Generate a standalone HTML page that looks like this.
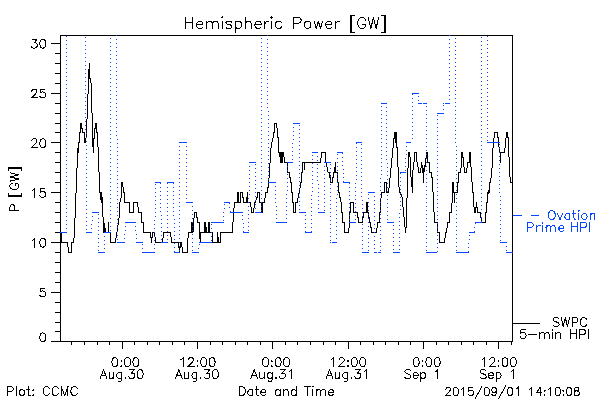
<!DOCTYPE html>
<html><head><meta charset="utf-8"><title>Hemispheric Power</title>
<style>html,body{margin:0;padding:0;background:#fff;font-family:"Liberation Sans",sans-serif}svg{display:block}</style></head>
<body>
<svg width="600" height="400" viewBox="0 0 600 400" shape-rendering="crispEdges">
<rect width="600" height="400" fill="#fff"/>
<path d="M60 35.5H513M60 341.5H513M60.5 35V342M512.5 35V342M51 341.5H61M55 331.5H61M55 322.5H61M55 312.5H61M55 302.5H61M51 292.5H61M55 282.5H61M55 272.5H61M55 262.5H61M55 252.5H61M51 242.5H61M55 232.5H61M55 222.5H61M55 212.5H61M55 202.5H61M51 192.5H61M55 182.5H61M55 172.5H61M55 162.5H61M55 152.5H61M51 142.5H61M55 132.5H61M55 123.5H61M55 113.5H61M55 103.5H61M51 93.5H61M55 83.5H61M55 73.5H61M55 63.5H61M55 53.5H61M51 43.5H61M71.5 341V345M84.5 341V345M97.5 341V345M109.5 341V345M122.5 341V349M134.5 341V345M147.5 341V345M159.5 341V345M172.5 341V345M184.5 341V345M197.5 341V349M210.5 341V345M222.5 341V345M235.5 341V345M247.5 341V345M260.5 341V345M272.5 341V349M285.5 341V345M297.5 341V345M310.5 341V345M323.5 341V345M335.5 341V345M348.5 341V349M360.5 341V345M373.5 341V345M385.5 341V345M398.5 341V345M410.5 341V345M423.5 341V349M436.5 341V345M448.5 341V345M461.5 341V345M473.5 341V345M486.5 341V345M498.5 341V349M511.5 341V345" stroke="#000" stroke-width="1" fill="none"/>
<path d="M61.5 232V243M61 242.5H68M67.5 242V247M68.5 247V253M68 252.5H72M71.5 242V253M71 242.5H74M73.5 238V243M74.5 218V238M75.5 193V218M76.5 168V193M77.5 148V168M78.5 142V153M79.5 132V143M80.5 123V133M81.5 123V129M82.5 128V133M82 132.5H85M84.5 132V143M85.5 138V143M86.5 119V138M87.5 94V119M88.5 69V94M89.5 63V79M90.5 78V83M91.5 83V113M92.5 113V147M93.5 138V153M94.5 128V139M95.5 123V129M96.5 123V133M97.5 132V147M98.5 147V172M99.5 172V193M100.5 192V200M101.5 192V203M102.5 197V217M103.5 217V232M104.5 223V232M105.5 228V232M108.5 222V233M103 232.5H111M110.5 232V243M110 242.5H116M115.5 238V243M116.5 232V238M117.5 225V232M118.5 218V225M119.5 202V218M120.5 198V202M121.5 182V198M122.5 182V187M123.5 187V193M124.5 192V203M124 202.5H130M129.5 202V213M129 212.5H134M133.5 202V213M133 202.5H138M137.5 202V207M138.5 207V213M138 212.5H142M141.5 212V223M141 222.5H144M143.5 222V233M143 232.5H151M150.5 232V238M151.5 237V243M152.5 232V238M152 232.5H155M154.5 232V237M155.5 237V243M155 242.5H163M162.5 238V243M163.5 232V238M163 232.5H171M170.5 232V237M171.5 237V243M171 242.5H179M178.5 242V248M179.5 247V253M180.5 242V248M181.5 242V247M182.5 247V253M182 252.5H188M187.5 238V253M188.5 232V238M188 232.5H192M191.5 222V233M192.5 222V233M193.5 218V232M194.5 212V218M194 212.5H197M196.5 212V218M197.5 217V223M197 222.5H200M199.5 222V239M200.5 232V243M200 232.5H205M204.5 222V233M205.5 222V233M206.5 227V233M205 232.5H209M208.5 222V233M209.5 222V233M209 232.5H213M212.5 232V243M212 242.5H221M217.5 232V243M218.5 237V243M220.5 232V243M220 232.5H233M232.5 222V233M233.5 208V222M234.5 202V208M234 202.5H237M237.5 192V203M238.5 192V203M238 202.5H241M240.5 192V203M240 192.5H243M242.5 192V198M243.5 197V203M243 202.5H247M246.5 197V203M247.5 192V203M247 202.5H251M250.5 202V207M251.5 207V213M251 212.5H254M253.5 208V213M254.5 202V208M255.5 200V203M256.5 197V200M257.5 192V198M257 192.5H260M259.5 192V203M259 202.5H265M261.5 202V213M262.5 202V213M264.5 198V203M265.5 192V198M265 192.5H268M267.5 187V193M268.5 178V188M269.5 163V178M270.5 148V163M271.5 142V148M272.5 138V142M273.5 132V138M274.5 123V133M274 123.5H277M276.5 123V128M277.5 128V138M278.5 137V153M279.5 152V157M280.5 152V163M281.5 152V163M282.5 152V163M283.5 152V157M284.5 157V163M284 162.5H288M287.5 162V173M287 172.5H290M289.5 172V178M290.5 177V183M291.5 182V193M292.5 192V203M293.5 202V213M293 212.5H296M295.5 202V213M295 202.5H298M297.5 198V203M298.5 193V198M299.5 188V193M300.5 182V188M301.5 172V183M302.5 162V173M304.5 162V170M302 162.5H321M320.5 158V163M321.5 152V158M321 152.5H326M325.5 152V163M326.5 162V167M327.5 167V172M328.5 172V173M329.5 172V178M330.5 175V183M330 182.5H333M332.5 177V183M333.5 172V178M333 172.5H338M334.5 167V173M335.5 162V173M337.5 172V183M338.5 182V193M339.5 192V198M340.5 197V202M341.5 202V213M342.5 212V223M342 222.5H345M344.5 222V233M344 232.5H349M348.5 228V233M349.5 212V228M350.5 202V213M350 202.5H354M353.5 202V212M353 212.5H358M357.5 212V218M358.5 217V223M358 222.5H363M362.5 217V223M363.5 212V218M363 212.5H368M366.5 202V213M367.5 202V213M368.5 212V218M369.5 217V223M370.5 222V228M371.5 227V233M371 232.5H377M376.5 228V233M377.5 222V228M377 222.5H380M379.5 212V223M380.5 198V213M381.5 192V198M381 192.5H385M384.5 182V193M384 182.5H387M386.5 182V193M386 192.5H389M388.5 188V193M389.5 178V188M390.5 168V178M391.5 158V168M392.5 148V158M393.5 138V148M394.5 132V139M395.5 132V143M394 132.5H397M396.5 132V148M397.5 147V167M398.5 167V187M399.5 187V193M400.5 192V195M401.5 194V197M402.5 197V207M403.5 207V217M404.5 217V227M405.5 227V233M406.5 198V228M407.5 168V198M408.5 152V168M409.5 152V157M410.5 157V177M411.5 177V187M412.5 170V193M413.5 162V170M414.5 152V162M414 152.5H417M416.5 152V162M417.5 162V167M418.5 167V173M418 172.5H421M420.5 168V173M421.5 162V168M422.5 165V173M423.5 168V183M424.5 165V172M425.5 158V167M426.5 152V158M427.5 152V163M427 162.5H430M429.5 162V173M429 172.5H432M431.5 172V178M432.5 177V192M433.5 192V212M434.5 212V223M434 222.5H438M437.5 222V233M437 232.5H440M439.5 232V243M439 242.5H445M444.5 238V243M445.5 232V238M446.5 228V233M447.5 222V228M447 222.5H450M449.5 212V223M449 212.5H452M451.5 203V213M452.5 182V203M453.5 182V193M453 192.5H458M454.5 192V203M457.5 182V193M458.5 172V183M458 172.5H461M460.5 168V173M461.5 152V168M462.5 152V158M463.5 157V167M464.5 167V173M464 172.5H467M466.5 168V173M467.5 162V168M467 162.5H470M469.5 152V163M470.5 152V167M471.5 167V182M472.5 182V193M473.5 192V207M474.5 207V213M475.5 207V213M476.5 202V208M477.5 207V213M477 212.5H481M480.5 212V218M481.5 217V223M481 222.5H486M485.5 212V223M486.5 202V213M487.5 192V203M488.5 190V194M489.5 182V193M490.5 178V183M491.5 168V178M492.5 148V168M493.5 138V148M494.5 132V138M494 132.5H498M497.5 132V138M498.5 137V147M499.5 147V153M500.5 152V163M500 152.5H505M504.5 148V153M505.5 138V148M506.5 132V138M507.5 132V138M508.5 137V157M509.5 157V177M510.5 177V183M511.5 182V183M512 323.5H540" stroke="#000" stroke-width="1" fill="none"/>
<path d="M60 232.5H67M86 232.5H92M92 212.5H99M98 252.5H105M104 232.5H111M117 242.5H125M125 222.5H136M136 242.5H143M142 252.5H155M155 182.5H161M161 242.5H168M167 182.5H174M174 252.5H180M179 142.5H187M186 202.5H193M192 252.5H199M199 242.5H212M211 222.5H224M224 202.5H230M230 212.5H243M243 232.5H249M249 162.5H256M255 212.5H262M268 182.5H276M276 222.5H287M287 162.5H293M293 123.5H300M299 212.5H306M305 232.5H312M312 152.5H318M318 212.5H325M324 162.5H331M330 242.5H331M332 242.5H337M337 152.5H343M343 182.5H350M349 222.5H356M356 142.5H362M362 252.5H369M368 192.5H375M374 252.5H377M378 252.5H381M381 103.5H387M387 222.5H394M393 252.5H400M400 172.5H406M406 142.5H411M412 93.5H419M418 103.5H422M423 103.5H427M426 252.5H437M437 113.5H444M443 103.5H444M445 103.5H450M456 252.5H469M469 232.5H475M475 222.5H482M487 142.5H500M500 242.5H507M506 252.5H513M66 36.5h1M66 40.5h1M66 44.5h1M66 48.5h1M66 52.5h1M66 56.5h1M66 60.5h1M66 64.5h1M66 68.5h1M66 72.5h1M66 76.5h1M66 80.5h1M66 84.5h1M66 88.5h1M66 92.5h1M66 96.5h1M66 100.5h1M66 104.5h1M66 108.5h1M66 112.5h1M66 116.5h1M66 120.5h1M66 124.5h1M66 128.5h1M66 132.5h1M66 136.5h1M66 140.5h1M66 144.5h1M66 148.5h1M66 152.5h1M66 156.5h1M66 160.5h1M66 164.5h1M66 168.5h1M66 172.5h1M66 176.5h1M66 180.5h1M66 184.5h1M66 188.5h1M66 192.5h1M66 196.5h1M66 200.5h1M66 204.5h1M66 208.5h1M66 212.5h1M66 216.5h1M66 220.5h1M66 224.5h1M66 228.5h1M85 37.5h1M85 41.5h1M85 45.5h1M85 49.5h1M85 53.5h1M85 57.5h1M85 61.5h1M85 65.5h1M85 69.5h1M85 73.5h1M85 77.5h1M85 81.5h1M85 85.5h1M85 89.5h1M85 93.5h1M85 97.5h1M85 101.5h1M85 105.5h1M85 109.5h1M85 113.5h1M85 117.5h1M85 121.5h1M85 125.5h1M85 129.5h1M86 133.5h1M86 137.5h1M86 141.5h1M86 145.5h1M86 149.5h1M86 153.5h1M86 157.5h1M86 161.5h1M86 165.5h1M86 169.5h1M86 173.5h1M86 177.5h1M86 181.5h1M86 185.5h1M86 189.5h1M86 193.5h1M86 197.5h1M86 201.5h1M86 205.5h1M86 209.5h1M86 213.5h1M86 217.5h1M86 221.5h1M86 225.5h1M86 229.5h1M92 216.5h1M92 220.5h1M91 224.5h1M91 228.5h1M98 214.5h1M98 218.5h1M98 222.5h1M98 226.5h1M98 230.5h1M98 234.5h1M98 238.5h1M98 242.5h1M98 246.5h1M98 250.5h1M104 236.5h1M104 240.5h1M104 244.5h1M104 248.5h1M110 38.5h1M110 42.5h1M110 46.5h1M110 50.5h1M110 54.5h1M110 58.5h1M110 62.5h1M110 66.5h1M110 70.5h1M110 74.5h1M110 78.5h1M110 82.5h1M110 86.5h1M110 90.5h1M110 94.5h1M110 98.5h1M110 102.5h1M110 106.5h1M110 110.5h1M110 114.5h1M110 118.5h1M110 122.5h1M110 126.5h1M110 130.5h1M110 134.5h1M110 138.5h1M110 142.5h1M110 146.5h1M110 150.5h1M110 154.5h1M110 158.5h1M110 162.5h1M110 166.5h1M110 170.5h1M110 174.5h1M110 178.5h1M110 182.5h1M110 186.5h1M110 190.5h1M110 194.5h1M110 198.5h1M110 202.5h1M110 206.5h1M110 210.5h1M110 214.5h1M110 218.5h1M110 222.5h1M110 226.5h1M110 230.5h1M116 35.5h1M116 39.5h1M116 43.5h1M116 47.5h1M116 51.5h1M116 55.5h1M116 59.5h1M116 63.5h1M116 67.5h1M116 71.5h1M116 75.5h1M116 79.5h1M116 83.5h1M116 87.5h1M116 91.5h1M116 95.5h1M116 99.5h1M116 103.5h1M116 107.5h1M116 111.5h1M116 115.5h1M116 119.5h1M116 123.5h1M116 127.5h1M116 131.5h1M116 135.5h1M117 139.5h1M117 143.5h1M117 147.5h1M117 151.5h1M117 155.5h1M117 159.5h1M117 163.5h1M117 167.5h1M117 171.5h1M117 175.5h1M117 179.5h1M117 183.5h1M117 187.5h1M117 191.5h1M117 195.5h1M117 199.5h1M117 203.5h1M117 207.5h1M117 211.5h1M117 215.5h1M117 219.5h1M117 223.5h1M117 227.5h1M117 231.5h1M117 235.5h1M117 239.5h1M125 226.5h1M125 230.5h1M124 234.5h1M124 238.5h1M135 226.5h1M135 230.5h1M136 234.5h1M136 238.5h1M142 244.5h1M142 248.5h1M155 184.5h1M155 188.5h1M155 192.5h1M155 196.5h1M155 200.5h1M155 204.5h1M155 208.5h1M155 212.5h1M155 216.5h1M154 220.5h1M154 224.5h1M154 228.5h1M154 232.5h1M154 236.5h1M154 240.5h1M154 244.5h1M154 248.5h1M160 183.5h1M160 187.5h1M160 191.5h1M160 195.5h1M160 199.5h1M160 203.5h1M160 207.5h1M160 211.5h1M161 215.5h1M161 219.5h1M161 223.5h1M161 227.5h1M161 231.5h1M161 235.5h1M161 239.5h1M167 183.5h1M167 187.5h1M167 191.5h1M167 195.5h1M167 199.5h1M167 203.5h1M167 207.5h1M167 211.5h1M167 215.5h1M167 219.5h1M167 223.5h1M167 227.5h1M167 231.5h1M167 235.5h1M167 239.5h1M173 183.5h1M173 187.5h1M173 191.5h1M173 195.5h1M173 199.5h1M173 203.5h1M173 207.5h1M173 211.5h1M173 215.5h1M174 219.5h1M174 223.5h1M174 227.5h1M174 231.5h1M174 235.5h1M174 239.5h1M174 243.5h1M174 247.5h1M174 251.5h1M179 146.5h1M179 150.5h1M179 154.5h1M179 158.5h1M179 162.5h1M179 166.5h1M179 170.5h1M179 174.5h1M179 178.5h1M179 182.5h1M179 186.5h1M179 190.5h1M179 194.5h1M179 198.5h1M179 202.5h1M179 206.5h1M179 210.5h1M179 214.5h1M179 218.5h1M179 222.5h1M179 226.5h1M179 230.5h1M179 234.5h1M179 238.5h1M179 242.5h1M179 246.5h1M179 250.5h1M186 146.5h1M186 150.5h1M186 154.5h1M186 158.5h1M186 162.5h1M186 166.5h1M186 170.5h1M186 174.5h1M186 178.5h1M186 182.5h1M186 186.5h1M186 190.5h1M186 194.5h1M186 198.5h1M192 206.5h1M192 210.5h1M192 214.5h1M192 218.5h1M192 222.5h1M192 226.5h1M192 230.5h1M192 234.5h1M192 238.5h1M192 242.5h1M192 246.5h1M192 250.5h1M199 244.5h1M198 248.5h1M211 224.5h1M211 228.5h1M211 232.5h1M211 236.5h1M211 240.5h1M224 204.5h1M224 208.5h1M223 212.5h1M223 216.5h1M223 220.5h1M229 203.5h1M229 207.5h1M230 211.5h1M242 215.5h1M242 219.5h1M243 223.5h1M243 227.5h1M243 231.5h1M249 166.5h1M249 170.5h1M249 174.5h1M249 178.5h1M249 182.5h1M249 186.5h1M249 190.5h1M249 194.5h1M248 198.5h1M248 202.5h1M248 206.5h1M248 210.5h1M248 214.5h1M248 218.5h1M248 222.5h1M248 226.5h1M248 230.5h1M255 164.5h1M255 168.5h1M255 172.5h1M255 176.5h1M255 180.5h1M255 184.5h1M255 188.5h1M255 192.5h1M255 196.5h1M255 200.5h1M255 204.5h1M255 208.5h1M261 38.5h1M261 42.5h1M261 46.5h1M261 50.5h1M261 54.5h1M261 58.5h1M261 62.5h1M261 66.5h1M261 70.5h1M261 74.5h1M261 78.5h1M261 82.5h1M261 86.5h1M261 90.5h1M261 94.5h1M261 98.5h1M261 102.5h1M261 106.5h1M261 110.5h1M261 114.5h1M261 118.5h1M261 122.5h1M261 126.5h1M261 130.5h1M261 134.5h1M261 138.5h1M261 142.5h1M261 146.5h1M261 150.5h1M261 154.5h1M261 158.5h1M261 162.5h1M261 166.5h1M261 170.5h1M261 174.5h1M261 178.5h1M261 182.5h1M261 186.5h1M261 190.5h1M261 194.5h1M261 198.5h1M261 202.5h1M261 206.5h1M261 210.5h1M267 35.5h1M267 39.5h1M267 43.5h1M267 47.5h1M267 51.5h1M267 55.5h1M267 59.5h1M267 63.5h1M267 67.5h1M267 71.5h1M267 75.5h1M267 79.5h1M267 83.5h1M267 87.5h1M267 91.5h1M267 95.5h1M267 99.5h1M267 103.5h1M267 107.5h1M268 111.5h1M268 115.5h1M268 119.5h1M268 123.5h1M268 127.5h1M268 131.5h1M268 135.5h1M268 139.5h1M268 143.5h1M268 147.5h1M268 151.5h1M268 155.5h1M268 159.5h1M268 163.5h1M268 167.5h1M268 171.5h1M268 175.5h1M268 179.5h1M275 186.5h1M275 190.5h1M275 194.5h1M275 198.5h1M275 202.5h1M276 206.5h1M276 210.5h1M276 214.5h1M276 218.5h1M287 166.5h1M287 170.5h1M287 174.5h1M287 178.5h1M287 182.5h1M287 186.5h1M287 190.5h1M286 194.5h1M286 198.5h1M286 202.5h1M286 206.5h1M286 210.5h1M286 214.5h1M286 218.5h1M293 127.5h1M293 131.5h1M293 135.5h1M293 139.5h1M292 143.5h1M292 147.5h1M292 151.5h1M292 155.5h1M292 159.5h1M299 125.5h1M299 129.5h1M299 133.5h1M299 137.5h1M299 141.5h1M299 145.5h1M299 149.5h1M299 153.5h1M299 157.5h1M299 161.5h1M299 165.5h1M299 169.5h1M299 173.5h1M299 177.5h1M299 181.5h1M299 185.5h1M299 189.5h1M299 193.5h1M299 197.5h1M299 201.5h1M299 205.5h1M299 209.5h1M305 215.5h1M305 219.5h1M305 223.5h1M305 227.5h1M305 231.5h1M312 155.5h1M312 159.5h1M312 163.5h1M312 167.5h1M312 171.5h1M312 175.5h1M312 179.5h1M312 183.5h1M312 187.5h1M312 191.5h1M311 195.5h1M311 199.5h1M311 203.5h1M311 207.5h1M311 211.5h1M311 215.5h1M311 219.5h1M311 223.5h1M311 227.5h1M311 231.5h1M317 156.5h1M317 160.5h1M317 164.5h1M317 168.5h1M317 172.5h1M317 176.5h1M317 180.5h1M318 184.5h1M318 188.5h1M318 192.5h1M318 196.5h1M318 200.5h1M318 204.5h1M318 208.5h1M324 166.5h1M324 170.5h1M324 174.5h1M324 178.5h1M324 182.5h1M324 186.5h1M324 190.5h1M324 194.5h1M324 198.5h1M324 202.5h1M324 206.5h1M324 210.5h1M330 164.5h1M330 168.5h1M330 172.5h1M330 176.5h1M330 180.5h1M330 184.5h1M330 188.5h1M330 192.5h1M330 196.5h1M330 200.5h1M330 204.5h1M330 208.5h1M330 212.5h1M330 216.5h1M330 220.5h1M330 224.5h1M330 228.5h1M330 232.5h1M330 236.5h1M330 240.5h1M337 154.5h1M337 158.5h1M337 162.5h1M337 166.5h1M337 170.5h1M337 174.5h1M337 178.5h1M337 182.5h1M337 186.5h1M337 190.5h1M337 194.5h1M336 198.5h1M336 202.5h1M336 206.5h1M336 210.5h1M336 214.5h1M336 218.5h1M336 222.5h1M336 226.5h1M336 230.5h1M336 234.5h1M336 238.5h1M342 153.5h1M342 157.5h1M342 161.5h1M342 165.5h1M343 169.5h1M343 173.5h1M343 177.5h1M343 181.5h1M349 183.5h1M349 187.5h1M349 191.5h1M349 195.5h1M349 199.5h1M349 203.5h1M349 207.5h1M349 211.5h1M349 215.5h1M349 219.5h1M356 143.5h1M356 147.5h1M356 151.5h1M356 155.5h1M356 159.5h1M356 163.5h1M356 167.5h1M356 171.5h1M356 175.5h1M356 179.5h1M355 183.5h1M355 187.5h1M355 191.5h1M355 195.5h1M355 199.5h1M355 203.5h1M355 207.5h1M355 211.5h1M355 215.5h1M355 219.5h1M361 144.5h1M361 148.5h1M361 152.5h1M361 156.5h1M361 160.5h1M361 164.5h1M361 168.5h1M361 172.5h1M361 176.5h1M361 180.5h1M361 184.5h1M361 188.5h1M361 192.5h1M361 196.5h1M362 200.5h1M362 204.5h1M362 208.5h1M362 212.5h1M362 216.5h1M362 220.5h1M362 224.5h1M362 228.5h1M362 232.5h1M362 236.5h1M362 240.5h1M362 244.5h1M362 248.5h1M368 194.5h1M368 198.5h1M368 202.5h1M368 206.5h1M368 210.5h1M368 214.5h1M368 218.5h1M368 222.5h1M368 226.5h1M368 230.5h1M368 234.5h1M368 238.5h1M368 242.5h1M368 246.5h1M368 250.5h1M374 196.5h1M374 200.5h1M374 204.5h1M374 208.5h1M374 212.5h1M374 216.5h1M374 220.5h1M374 224.5h1M374 228.5h1M374 232.5h1M374 236.5h1M374 240.5h1M374 244.5h1M374 248.5h1M381 106.5h1M381 110.5h1M381 114.5h1M381 118.5h1M381 122.5h1M381 126.5h1M381 130.5h1M381 134.5h1M381 138.5h1M381 142.5h1M381 146.5h1M381 150.5h1M381 154.5h1M381 158.5h1M381 162.5h1M381 166.5h1M381 170.5h1M381 174.5h1M380 178.5h1M380 182.5h1M380 186.5h1M380 190.5h1M380 194.5h1M380 198.5h1M380 202.5h1M380 206.5h1M380 210.5h1M380 214.5h1M380 218.5h1M380 222.5h1M380 226.5h1M380 230.5h1M380 234.5h1M380 238.5h1M380 242.5h1M380 246.5h1M380 250.5h1M386 107.5h1M386 111.5h1M386 115.5h1M386 119.5h1M386 123.5h1M386 127.5h1M386 131.5h1M386 135.5h1M386 139.5h1M386 143.5h1M386 147.5h1M386 151.5h1M386 155.5h1M386 159.5h1M387 163.5h1M387 167.5h1M387 171.5h1M387 175.5h1M387 179.5h1M387 183.5h1M387 187.5h1M387 191.5h1M387 195.5h1M387 199.5h1M387 203.5h1M387 207.5h1M387 211.5h1M387 215.5h1M387 219.5h1M393 225.5h1M393 229.5h1M393 233.5h1M393 237.5h1M393 241.5h1M393 245.5h1M393 249.5h1M400 173.5h1M400 177.5h1M400 181.5h1M400 185.5h1M400 189.5h1M400 193.5h1M400 197.5h1M400 201.5h1M400 205.5h1M400 209.5h1M399 213.5h1M399 217.5h1M399 221.5h1M399 225.5h1M399 229.5h1M399 233.5h1M399 237.5h1M399 241.5h1M399 245.5h1M399 249.5h1M406 146.5h1M406 150.5h1M406 154.5h1M405 158.5h1M405 162.5h1M405 166.5h1M405 170.5h1M412 94.5h1M412 98.5h1M412 102.5h1M412 106.5h1M412 110.5h1M412 114.5h1M412 118.5h1M412 122.5h1M412 126.5h1M412 130.5h1M412 134.5h1M412 138.5h1M418 96.5h1M418 100.5h1M426 106.5h1M426 110.5h1M426 114.5h1M426 118.5h1M426 122.5h1M426 126.5h1M426 130.5h1M426 134.5h1M426 138.5h1M426 142.5h1M426 146.5h1M426 150.5h1M426 154.5h1M426 158.5h1M426 162.5h1M426 166.5h1M426 170.5h1M426 174.5h1M426 178.5h1M426 182.5h1M426 186.5h1M426 190.5h1M426 194.5h1M426 198.5h1M426 202.5h1M426 206.5h1M426 210.5h1M426 214.5h1M426 218.5h1M426 222.5h1M426 226.5h1M426 230.5h1M426 234.5h1M426 238.5h1M426 242.5h1M426 246.5h1M426 250.5h1M437 115.5h1M437 119.5h1M437 123.5h1M437 127.5h1M437 131.5h1M437 135.5h1M437 139.5h1M437 143.5h1M437 147.5h1M437 151.5h1M437 155.5h1M437 159.5h1M437 163.5h1M437 167.5h1M437 171.5h1M437 175.5h1M437 179.5h1M437 183.5h1M437 187.5h1M437 191.5h1M437 195.5h1M437 199.5h1M437 203.5h1M437 207.5h1M437 211.5h1M437 215.5h1M437 219.5h1M437 223.5h1M437 227.5h1M437 231.5h1M437 235.5h1M437 239.5h1M437 243.5h1M437 247.5h1M437 251.5h1M443 105.5h1M443 109.5h1M449 35.5h1M449 39.5h1M449 43.5h1M449 47.5h1M449 51.5h1M449 55.5h1M449 59.5h1M449 63.5h1M449 67.5h1M449 71.5h1M449 75.5h1M449 79.5h1M449 83.5h1M449 87.5h1M449 91.5h1M449 95.5h1M449 99.5h1M455 38.5h1M455 42.5h1M455 46.5h1M455 50.5h1M455 54.5h1M455 58.5h1M455 62.5h1M455 66.5h1M455 70.5h1M455 74.5h1M455 78.5h1M455 82.5h1M455 86.5h1M455 90.5h1M455 94.5h1M455 98.5h1M455 102.5h1M455 106.5h1M455 110.5h1M455 114.5h1M455 118.5h1M455 122.5h1M455 126.5h1M455 130.5h1M455 134.5h1M455 138.5h1M455 142.5h1M456 146.5h1M456 150.5h1M456 154.5h1M456 158.5h1M456 162.5h1M456 166.5h1M456 170.5h1M456 174.5h1M456 178.5h1M456 182.5h1M456 186.5h1M456 190.5h1M456 194.5h1M456 198.5h1M456 202.5h1M456 206.5h1M456 210.5h1M456 214.5h1M456 218.5h1M456 222.5h1M456 226.5h1M456 230.5h1M456 234.5h1M456 238.5h1M456 242.5h1M456 246.5h1M456 250.5h1M469 235.5h1M469 239.5h1M468 243.5h1M468 247.5h1M468 251.5h1M475 223.5h1M474 227.5h1M474 231.5h1M481 37.5h1M481 41.5h1M481 45.5h1M481 49.5h1M481 53.5h1M481 57.5h1M481 61.5h1M481 65.5h1M481 69.5h1M481 73.5h1M481 77.5h1M481 81.5h1M481 85.5h1M481 89.5h1M481 93.5h1M481 97.5h1M481 101.5h1M481 105.5h1M481 109.5h1M481 113.5h1M481 117.5h1M481 121.5h1M481 125.5h1M481 129.5h1M481 133.5h1M481 137.5h1M481 141.5h1M481 145.5h1M481 149.5h1M481 153.5h1M481 157.5h1M481 161.5h1M481 165.5h1M481 169.5h1M481 173.5h1M481 177.5h1M481 181.5h1M481 185.5h1M481 189.5h1M481 193.5h1M481 197.5h1M481 201.5h1M481 205.5h1M481 209.5h1M481 213.5h1M481 217.5h1M481 221.5h1M487 36.5h1M487 40.5h1M487 44.5h1M487 48.5h1M487 52.5h1M487 56.5h1M487 60.5h1M487 64.5h1M487 68.5h1M487 72.5h1M487 76.5h1M487 80.5h1M487 84.5h1M487 88.5h1M487 92.5h1M487 96.5h1M487 100.5h1M487 104.5h1M487 108.5h1M487 112.5h1M487 116.5h1M487 120.5h1M487 124.5h1M487 128.5h1M487 132.5h1M487 136.5h1M487 140.5h1M499 144.5h1M499 148.5h1M499 152.5h1M499 156.5h1M499 160.5h1M499 164.5h1M499 168.5h1M499 172.5h1M499 176.5h1M499 180.5h1M499 184.5h1M499 188.5h1M499 192.5h1M500 196.5h1M500 200.5h1M500 204.5h1M500 208.5h1M500 212.5h1M500 216.5h1M500 220.5h1M500 224.5h1M500 228.5h1M500 232.5h1M500 236.5h1M500 240.5h1M506 246.5h1M506 250.5h1" stroke="#0848ff" stroke-width="1" fill="none"/>
<path d="M185.5 17.48 185.5 28.5M192.85 17.48 192.85 28.5M185.5 22.73 192.85 22.73M196.53 24.3 202.83 24.3 202.83 23.25 202.3 22.2 201.78 21.68 200.73 21.15 199.15 21.15 198.1 21.68 197.05 22.73 196.53 24.3 196.53 25.35 197.05 26.93 198.1 27.98 199.15 28.5 200.73 28.5 201.78 27.98 202.83 26.93M206.5 21.15 206.5 28.5M206.5 23.25 208.08 21.68 209.12 21.15 210.7 21.15 211.75 21.68 212.28 23.25 212.28 28.5M212.28 23.25 213.85 21.68 214.9 21.15 216.48 21.15 217.53 21.68 218.05 23.25 218.05 28.5M221.73 17.48 222.25 18 222.78 17.48 222.25 16.95 221.73 17.48M222.25 21.15 222.25 28.5M231.7 22.73 231.18 21.68 229.6 21.15 228.03 21.15 226.45 21.68 225.93 22.73 226.45 23.77 227.5 24.3 230.12 24.82 231.18 25.35 231.7 26.4 231.7 26.93 231.18 27.98 229.6 28.5 228.03 28.5 226.45 27.98 225.93 26.93M235.38 21.15 235.38 32.17M235.38 22.73 236.43 21.68 237.48 21.15 239.05 21.15 240.1 21.68 241.15 22.73 241.68 24.3 241.68 25.35 241.15 26.93 240.1 27.98 239.05 28.5 237.48 28.5 236.43 27.98 235.38 26.93M245.35 17.48 245.35 28.5M245.35 23.25 246.93 21.68 247.98 21.15 249.55 21.15 250.6 21.68 251.12 23.25 251.12 28.5M254.8 24.3 261.1 24.3 261.1 23.25 260.57 22.2 260.05 21.68 259 21.15 257.43 21.15 256.38 21.68 255.32 22.73 254.8 24.3 254.8 25.35 255.32 26.93 256.38 27.98 257.43 28.5 259 28.5 260.05 27.98 261.1 26.93M264.77 21.15 264.77 28.5M264.77 24.3 265.3 22.73 266.35 21.68 267.4 21.15 268.98 21.15M271.08 17.48 271.6 18 272.12 17.48 271.6 16.95 271.08 17.48M271.6 21.15 271.6 28.5M281.58 22.73 280.53 21.68 279.48 21.15 277.9 21.15 276.85 21.68 275.8 22.73 275.28 24.3 275.28 25.35 275.8 26.93 276.85 27.98 277.9 28.5 279.48 28.5 280.53 27.98 281.58 26.93M293.65 17.48 293.65 28.5M293.65 17.48 298.38 17.48 299.95 18 300.48 18.52 301 19.57 301 21.15 300.48 22.2 299.95 22.73 298.38 23.25 293.65 23.25M306.78 21.15 305.73 21.68 304.68 22.73 304.15 24.3 304.15 25.35 304.68 26.93 305.73 27.98 306.78 28.5 308.35 28.5 309.4 27.98 310.45 26.93 310.98 25.35 310.98 24.3 310.45 22.73 309.4 21.68 308.35 21.15 306.78 21.15M314.12 21.15 316.23 28.5M318.33 21.15 316.23 28.5M318.33 21.15 320.43 28.5M322.53 21.15 320.43 28.5M325.68 24.3 331.98 24.3 331.98 23.25 331.45 22.2 330.93 21.68 329.88 21.15 328.3 21.15 327.25 21.68 326.2 22.73 325.68 24.3 325.68 25.35 326.2 26.93 327.25 27.98 328.3 28.5 329.88 28.5 330.93 27.98 331.98 26.93M335.65 21.15 335.65 28.5M335.65 24.3 336.18 22.73 337.23 21.68 338.28 21.15 339.85 21.15M350.88 15.38 350.88 32.17M351.4 15.38 351.4 32.17M350.88 15.38 354.55 15.38M350.88 32.17 354.55 32.17M365.58 20.1 365.05 19.05 364 18 362.95 17.48 360.85 17.48 359.8 18 358.75 19.05 358.23 20.1 357.7 21.68 357.7 24.3 358.23 25.88 358.75 26.93 359.8 27.98 360.85 28.5 362.95 28.5 364 27.98 365.05 26.93 365.58 25.88 365.58 24.3M362.95 24.3 365.58 24.3M368.2 17.48 370.83 28.5M373.45 17.48 370.83 28.5M373.45 17.48 376.08 28.5M378.7 17.48 376.08 28.5M384.48 15.38 384.48 32.17M385 15.38 385 32.17M381.33 15.38 385 15.38M381.33 32.17 385 32.17M9.98 210.52 18.8 210.52M9.98 210.52 9.98 206.74 10.4 205.48 10.82 205.06 11.66 204.64 12.92 204.64 13.76 205.06 14.18 205.48 14.6 206.74 14.6 210.52M12.08 183.22 11.24 183.64 10.4 184.48 9.98 185.32 9.98 187 10.4 187.84 11.24 188.68 12.08 189.1 13.34 189.52 15.44 189.52 16.7 189.1 17.54 188.68 18.38 187.84 18.8 187 18.8 185.32 18.38 184.48 17.54 183.64 16.7 183.22 15.44 183.22M15.44 185.32 15.44 183.22M9.98 181.12 18.8 179.02M9.98 176.92 18.8 179.02M9.98 176.92 18.8 174.82M9.98 172.72 18.8 174.82M8.3 168.1 21.74 168.1M8.3 167.68 21.74 167.68M8.3 170.62 8.3 167.68M21.74 170.62 21.74 167.68M8.3 196.28 21.74 196.28M8.3 195.86 21.74 195.86M8.3 196.28 8.3 193.34M21.74 196.28 21.74 193.34M42.38 332.98 41.12 333.4 40.28 334.66 39.86 336.76 39.86 338.02 40.28 340.12 41.12 341.38 42.38 341.8 43.22 341.8 44.48 341.38 45.32 340.12 45.74 338.02 45.74 336.76 45.32 334.66 44.48 333.4 43.22 332.98 42.38 332.98M44.9 288.05 40.7 288.05 40.28 291.83 40.7 291.41 41.96 290.99 43.22 290.99 44.48 291.41 45.32 292.25 45.74 293.51 45.74 294.35 45.32 295.61 44.48 296.45 43.22 296.87 41.96 296.87 40.7 296.45 40.28 296.03 39.86 295.19M32.72 239.98 33.56 239.56 34.82 238.3 34.82 247.12M42.38 238.3 41.12 238.72 40.28 239.98 39.86 242.08 39.86 243.34 40.28 245.44 41.12 246.7 42.38 247.12 43.22 247.12 44.48 246.7 45.32 245.44 45.74 243.34 45.74 242.08 45.32 239.98 44.48 238.72 43.22 238.3 42.38 238.3M32.72 190.23 33.56 189.81 34.82 188.55 34.82 197.37M44.9 188.55 40.7 188.55 40.28 192.33 40.7 191.91 41.96 191.49 43.22 191.49 44.48 191.91 45.32 192.75 45.74 194.01 45.74 194.85 45.32 196.11 44.48 196.95 43.22 197.37 41.96 197.37 40.7 196.95 40.28 196.53 39.86 195.69M31.88 140.9 31.88 140.48 32.3 139.64 32.72 139.22 33.56 138.8 35.24 138.8 36.08 139.22 36.5 139.64 36.92 140.48 36.92 141.32 36.5 142.16 35.66 143.42 31.46 147.62 37.34 147.62M42.38 138.8 41.12 139.22 40.28 140.48 39.86 142.58 39.86 143.84 40.28 145.94 41.12 147.2 42.38 147.62 43.22 147.62 44.48 147.2 45.32 145.94 45.74 143.84 45.74 142.58 45.32 140.48 44.48 139.22 43.22 138.8 42.38 138.8M31.88 91.15 31.88 90.73 32.3 89.89 32.72 89.47 33.56 89.05 35.24 89.05 36.08 89.47 36.5 89.89 36.92 90.73 36.92 91.57 36.5 92.41 35.66 93.67 31.46 97.87 37.34 97.87M44.9 89.05 40.7 89.05 40.28 92.83 40.7 92.41 41.96 91.99 43.22 91.99 44.48 92.41 45.32 93.25 45.74 94.51 45.74 95.35 45.32 96.61 44.48 97.45 43.22 97.87 41.96 97.87 40.7 97.45 40.28 97.03 39.86 96.19M32.3 39.3 36.92 39.3 34.4 42.66 35.66 42.66 36.5 43.08 36.92 43.5 37.34 44.76 37.34 45.6 36.92 46.86 36.08 47.7 34.82 48.12 33.56 48.12 32.3 47.7 31.88 47.28 31.46 46.44M42.38 39.3 41.12 39.72 40.28 40.98 39.86 43.08 39.86 44.34 40.28 46.44 41.12 47.7 42.38 48.12 43.22 48.12 44.48 47.7 45.32 46.44 45.74 44.34 45.74 43.08 45.32 40.98 44.48 39.72 43.22 39.3 42.38 39.3M114.47 357.68 113.21 358.1 112.37 359.36 111.95 361.46 111.95 362.72 112.37 364.82 113.21 366.08 114.47 366.5 115.31 366.5 116.57 366.08 117.41 364.82 117.83 362.72 117.83 361.46 117.41 359.36 116.57 358.1 115.31 357.68 114.47 357.68M121.19 360.62 120.77 361.04 121.19 361.46 121.61 361.04 121.19 360.62M121.19 365.66 120.77 366.08 121.19 366.5 121.61 366.08 121.19 365.66M127.07 357.68 125.81 358.1 124.97 359.36 124.55 361.46 124.55 362.72 124.97 364.82 125.81 366.08 127.07 366.5 127.91 366.5 129.17 366.08 130.01 364.82 130.43 362.72 130.43 361.46 130.01 359.36 129.17 358.1 127.91 357.68 127.07 357.68M135.47 357.68 134.21 358.1 133.37 359.36 132.95 361.46 132.95 362.72 133.37 364.82 134.21 366.08 135.47 366.5 136.31 366.5 137.57 366.08 138.41 364.82 138.83 362.72 138.83 361.46 138.41 359.36 137.57 358.1 136.31 357.68 135.47 357.68M103.55 369.68 100.19 378.5M103.55 369.68 106.91 378.5M101.45 375.56 105.65 375.56M109.01 372.62 109.01 376.82 109.43 378.08 110.27 378.5 111.53 378.5 112.37 378.08 113.63 376.82M113.63 372.62 113.63 378.5M121.61 372.62 121.61 379.34 121.19 380.6 120.77 381.02 119.93 381.44 118.67 381.44 117.83 381.02M121.61 373.88 120.77 373.04 119.93 372.62 118.67 372.62 117.83 373.04 116.99 373.88 116.57 375.14 116.57 375.98 116.99 377.24 117.83 378.08 118.67 378.5 119.93 378.5 120.77 378.08 121.61 377.24M125.39 377.66 124.97 378.08 125.39 378.5 125.81 378.08 125.39 377.66M129.59 369.68 134.21 369.68 131.69 373.04 132.95 373.04 133.79 373.46 134.21 373.88 134.63 375.14 134.63 375.98 134.21 377.24 133.37 378.08 132.11 378.5 130.85 378.5 129.59 378.08 129.17 377.66 128.75 376.82M139.67 369.68 138.41 370.1 137.57 371.36 137.15 373.46 137.15 374.72 137.57 376.82 138.41 378.08 139.67 378.5 140.51 378.5 141.77 378.08 142.61 376.82 143.03 374.72 143.03 373.46 142.61 371.36 141.77 370.1 140.51 369.68 139.67 369.68M180.98 359.36 181.82 358.94 183.08 357.68 183.08 366.5M188.54 359.78 188.54 359.36 188.96 358.52 189.38 358.1 190.22 357.68 191.9 357.68 192.74 358.1 193.16 358.52 193.58 359.36 193.58 360.2 193.16 361.04 192.32 362.3 188.12 366.5 194 366.5M197.36 360.62 196.94 361.04 197.36 361.46 197.78 361.04 197.36 360.62M197.36 365.66 196.94 366.08 197.36 366.5 197.78 366.08 197.36 365.66M203.24 357.68 201.98 358.1 201.14 359.36 200.72 361.46 200.72 362.72 201.14 364.82 201.98 366.08 203.24 366.5 204.08 366.5 205.34 366.08 206.18 364.82 206.6 362.72 206.6 361.46 206.18 359.36 205.34 358.1 204.08 357.68 203.24 357.68M211.64 357.68 210.38 358.1 209.54 359.36 209.12 361.46 209.12 362.72 209.54 364.82 210.38 366.08 211.64 366.5 212.48 366.5 213.74 366.08 214.58 364.82 215 362.72 215 361.46 214.58 359.36 213.74 358.1 212.48 357.68 211.64 357.68M178.88 369.68 175.52 378.5M178.88 369.68 182.24 378.5M176.78 375.56 180.98 375.56M184.34 372.62 184.34 376.82 184.76 378.08 185.6 378.5 186.86 378.5 187.7 378.08 188.96 376.82M188.96 372.62 188.96 378.5M196.94 372.62 196.94 379.34 196.52 380.6 196.1 381.02 195.26 381.44 194 381.44 193.16 381.02M196.94 373.88 196.1 373.04 195.26 372.62 194 372.62 193.16 373.04 192.32 373.88 191.9 375.14 191.9 375.98 192.32 377.24 193.16 378.08 194 378.5 195.26 378.5 196.1 378.08 196.94 377.24M200.72 377.66 200.3 378.08 200.72 378.5 201.14 378.08 200.72 377.66M204.92 369.68 209.54 369.68 207.02 373.04 208.28 373.04 209.12 373.46 209.54 373.88 209.96 375.14 209.96 375.98 209.54 377.24 208.7 378.08 207.44 378.5 206.18 378.5 204.92 378.08 204.5 377.66 204.08 376.82M215 369.68 213.74 370.1 212.9 371.36 212.48 373.46 212.48 374.72 212.9 376.82 213.74 378.08 215 378.5 215.84 378.5 217.1 378.08 217.94 376.82 218.36 374.72 218.36 373.46 217.94 371.36 217.1 370.1 215.84 369.68 215 369.68M265.14 357.68 263.88 358.1 263.04 359.36 262.62 361.46 262.62 362.72 263.04 364.82 263.88 366.08 265.14 366.5 265.98 366.5 267.24 366.08 268.08 364.82 268.5 362.72 268.5 361.46 268.08 359.36 267.24 358.1 265.98 357.68 265.14 357.68M271.86 360.62 271.44 361.04 271.86 361.46 272.28 361.04 271.86 360.62M271.86 365.66 271.44 366.08 271.86 366.5 272.28 366.08 271.86 365.66M277.74 357.68 276.48 358.1 275.64 359.36 275.22 361.46 275.22 362.72 275.64 364.82 276.48 366.08 277.74 366.5 278.58 366.5 279.84 366.08 280.68 364.82 281.1 362.72 281.1 361.46 280.68 359.36 279.84 358.1 278.58 357.68 277.74 357.68M286.14 357.68 284.88 358.1 284.04 359.36 283.62 361.46 283.62 362.72 284.04 364.82 284.88 366.08 286.14 366.5 286.98 366.5 288.24 366.08 289.08 364.82 289.5 362.72 289.5 361.46 289.08 359.36 288.24 358.1 286.98 357.68 286.14 357.68M254.22 369.68 250.86 378.5M254.22 369.68 257.58 378.5M252.12 375.56 256.32 375.56M259.68 372.62 259.68 376.82 260.1 378.08 260.94 378.5 262.2 378.5 263.04 378.08 264.3 376.82M264.3 372.62 264.3 378.5M272.28 372.62 272.28 379.34 271.86 380.6 271.44 381.02 270.6 381.44 269.34 381.44 268.5 381.02M272.28 373.88 271.44 373.04 270.6 372.62 269.34 372.62 268.5 373.04 267.66 373.88 267.24 375.14 267.24 375.98 267.66 377.24 268.5 378.08 269.34 378.5 270.6 378.5 271.44 378.08 272.28 377.24M276.06 377.66 275.64 378.08 276.06 378.5 276.48 378.08 276.06 377.66M280.26 369.68 284.88 369.68 282.36 373.04 283.62 373.04 284.46 373.46 284.88 373.88 285.3 375.14 285.3 375.98 284.88 377.24 284.04 378.08 282.78 378.5 281.52 378.5 280.26 378.08 279.84 377.66 279.42 376.82M289.08 371.36 289.92 370.94 291.18 369.68 291.18 378.5M331.65 359.36 332.49 358.94 333.75 357.68 333.75 366.5M339.21 359.78 339.21 359.36 339.63 358.52 340.05 358.1 340.89 357.68 342.57 357.68 343.41 358.1 343.83 358.52 344.25 359.36 344.25 360.2 343.83 361.04 342.99 362.3 338.79 366.5 344.67 366.5M348.03 360.62 347.61 361.04 348.03 361.46 348.45 361.04 348.03 360.62M348.03 365.66 347.61 366.08 348.03 366.5 348.45 366.08 348.03 365.66M353.91 357.68 352.65 358.1 351.81 359.36 351.39 361.46 351.39 362.72 351.81 364.82 352.65 366.08 353.91 366.5 354.75 366.5 356.01 366.08 356.85 364.82 357.27 362.72 357.27 361.46 356.85 359.36 356.01 358.1 354.75 357.68 353.91 357.68M362.31 357.68 361.05 358.1 360.21 359.36 359.79 361.46 359.79 362.72 360.21 364.82 361.05 366.08 362.31 366.5 363.15 366.5 364.41 366.08 365.25 364.82 365.67 362.72 365.67 361.46 365.25 359.36 364.41 358.1 363.15 357.68 362.31 357.68M329.55 369.68 326.19 378.5M329.55 369.68 332.91 378.5M327.45 375.56 331.65 375.56M335.01 372.62 335.01 376.82 335.43 378.08 336.27 378.5 337.53 378.5 338.37 378.08 339.63 376.82M339.63 372.62 339.63 378.5M347.61 372.62 347.61 379.34 347.19 380.6 346.77 381.02 345.93 381.44 344.67 381.44 343.83 381.02M347.61 373.88 346.77 373.04 345.93 372.62 344.67 372.62 343.83 373.04 342.99 373.88 342.57 375.14 342.57 375.98 342.99 377.24 343.83 378.08 344.67 378.5 345.93 378.5 346.77 378.08 347.61 377.24M351.39 377.66 350.97 378.08 351.39 378.5 351.81 378.08 351.39 377.66M355.59 369.68 360.21 369.68 357.69 373.04 358.95 373.04 359.79 373.46 360.21 373.88 360.63 375.14 360.63 375.98 360.21 377.24 359.37 378.08 358.11 378.5 356.85 378.5 355.59 378.08 355.17 377.66 354.75 376.82M364.41 371.36 365.25 370.94 366.51 369.68 366.51 378.5M415.8 357.68 414.54 358.1 413.7 359.36 413.28 361.46 413.28 362.72 413.7 364.82 414.54 366.08 415.8 366.5 416.64 366.5 417.9 366.08 418.74 364.82 419.16 362.72 419.16 361.46 418.74 359.36 417.9 358.1 416.64 357.68 415.8 357.68M422.52 360.62 422.1 361.04 422.52 361.46 422.94 361.04 422.52 360.62M422.52 365.66 422.1 366.08 422.52 366.5 422.94 366.08 422.52 365.66M428.4 357.68 427.14 358.1 426.3 359.36 425.88 361.46 425.88 362.72 426.3 364.82 427.14 366.08 428.4 366.5 429.24 366.5 430.5 366.08 431.34 364.82 431.76 362.72 431.76 361.46 431.34 359.36 430.5 358.1 429.24 357.68 428.4 357.68M436.8 357.68 435.54 358.1 434.7 359.36 434.28 361.46 434.28 362.72 434.7 364.82 435.54 366.08 436.8 366.5 437.64 366.5 438.9 366.08 439.74 364.82 440.16 362.72 440.16 361.46 439.74 359.36 438.9 358.1 437.64 357.68 436.8 357.68M410.77 370.94 409.93 370.1 408.67 369.68 406.99 369.68 405.73 370.1 404.89 370.94 404.89 371.78 405.31 372.62 405.73 373.04 406.57 373.46 409.09 374.3 409.93 374.72 410.35 375.14 410.77 375.98 410.77 377.24 409.93 378.08 408.67 378.5 406.99 378.5 405.73 378.08 404.89 377.24M413 375.14 418.04 375.14 418.04 374.3 417.62 373.46 417.2 373.04 416.36 372.62 415.1 372.62 414.26 373.04 413.42 373.88 413 375.14 413 375.98 413.42 377.24 414.26 378.08 415.1 378.5 416.36 378.5 417.2 378.08 418.04 377.24M420.72 372.62 420.72 381.44M420.72 373.88 421.56 373.04 422.4 372.62 423.66 372.62 424.5 373.04 425.34 373.88 425.76 375.14 425.76 375.98 425.34 377.24 424.5 378.08 423.66 378.5 422.4 378.5 421.56 378.08 420.72 377.24M435.74 371.36 436.58 370.94 437.84 369.68 437.84 378.5M482.32 359.36 483.16 358.94 484.42 357.68 484.42 366.5M489.88 359.78 489.88 359.36 490.3 358.52 490.72 358.1 491.56 357.68 493.24 357.68 494.08 358.1 494.5 358.52 494.92 359.36 494.92 360.2 494.5 361.04 493.66 362.3 489.46 366.5 495.34 366.5M498.7 360.62 498.28 361.04 498.7 361.46 499.12 361.04 498.7 360.62M498.7 365.66 498.28 366.08 498.7 366.5 499.12 366.08 498.7 365.66M504.58 357.68 503.32 358.1 502.48 359.36 502.06 361.46 502.06 362.72 502.48 364.82 503.32 366.08 504.58 366.5 505.42 366.5 506.68 366.08 507.52 364.82 507.94 362.72 507.94 361.46 507.52 359.36 506.68 358.1 505.42 357.68 504.58 357.68M512.98 357.68 511.72 358.1 510.88 359.36 510.46 361.46 510.46 362.72 510.88 364.82 511.72 366.08 512.98 366.5 513.82 366.5 515.08 366.08 515.92 364.82 516.34 362.72 516.34 361.46 515.92 359.36 515.08 358.1 513.82 357.68 512.98 357.68M486.11 370.94 485.27 370.1 484.01 369.68 482.33 369.68 481.07 370.1 480.23 370.94 480.23 371.78 480.65 372.62 481.07 373.04 481.91 373.46 484.43 374.3 485.27 374.72 485.69 375.14 486.11 375.98 486.11 377.24 485.27 378.08 484.01 378.5 482.33 378.5 481.07 378.08 480.23 377.24M488.33 375.14 493.37 375.14 493.37 374.3 492.95 373.46 492.53 373.04 491.69 372.62 490.43 372.62 489.59 373.04 488.75 373.88 488.33 375.14 488.33 375.98 488.75 377.24 489.59 378.08 490.43 378.5 491.69 378.5 492.53 378.08 493.37 377.24M496.05 372.62 496.05 381.44M496.05 373.88 496.89 373.04 497.73 372.62 498.99 372.62 499.83 373.04 500.67 373.88 501.09 375.14 501.09 375.98 500.67 377.24 499.83 378.08 498.99 378.5 497.73 378.5 496.89 378.08 496.05 377.24M511.08 371.36 511.92 370.94 513.18 369.68 513.18 378.5M7.48 386.68 7.48 395.5M7.48 386.68 11.26 386.68 12.52 387.1 12.94 387.52 13.36 388.36 13.36 389.62 12.94 390.46 12.52 390.88 11.26 391.3 7.48 391.3M16.3 386.68 16.3 395.5M21.34 389.62 20.5 390.04 19.66 390.88 19.24 392.14 19.24 392.98 19.66 394.24 20.5 395.08 21.34 395.5 22.6 395.5 23.44 395.08 24.28 394.24 24.7 392.98 24.7 392.14 24.28 390.88 23.44 390.04 22.6 389.62 21.34 389.62M28.06 386.68 28.06 393.82 28.48 395.08 29.32 395.5 30.16 395.5M26.8 389.62 29.74 389.62M33.1 389.62 32.68 390.04 33.1 390.46 33.52 390.04 33.1 389.62M33.1 394.66 32.68 395.08 33.1 395.5 33.52 395.08 33.1 394.66M49.48 388.78 49.06 387.94 48.22 387.1 47.38 386.68 45.7 386.68 44.86 387.1 44.02 387.94 43.6 388.78 43.18 390.04 43.18 392.14 43.6 393.4 44.02 394.24 44.86 395.08 45.7 395.5 47.38 395.5 48.22 395.08 49.06 394.24 49.48 393.4M58.3 388.78 57.88 387.94 57.04 387.1 56.2 386.68 54.52 386.68 53.68 387.1 52.84 387.94 52.42 388.78 52 390.04 52 392.14 52.42 393.4 52.84 394.24 53.68 395.08 54.52 395.5 56.2 395.5 57.04 395.08 57.88 394.24 58.3 393.4M61.24 386.68 61.24 395.5M61.24 386.68 64.6 395.5M67.96 386.68 64.6 395.5M67.96 386.68 67.96 395.5M77.2 388.78 76.78 387.94 75.94 387.1 75.1 386.68 73.42 386.68 72.58 387.1 71.74 387.94 71.32 388.78 70.9 390.04 70.9 392.14 71.32 393.4 71.74 394.24 72.58 395.08 73.42 395.5 75.1 395.5 75.94 395.08 76.78 394.24 77.2 393.4M239.38 386.68 239.38 395.5M239.38 386.68 242.32 386.68 243.58 387.1 244.42 387.94 244.84 388.78 245.26 390.04 245.26 392.14 244.84 393.4 244.42 394.24 243.58 395.08 242.32 395.5 239.38 395.5M252.82 389.62 252.82 395.5M252.82 390.88 251.98 390.04 251.14 389.62 249.88 389.62 249.04 390.04 248.2 390.88 247.78 392.14 247.78 392.98 248.2 394.24 249.04 395.08 249.88 395.5 251.14 395.5 251.98 395.08 252.82 394.24M256.6 386.68 256.6 393.82 257.02 395.08 257.86 395.5 258.7 395.5M255.34 389.62 258.28 389.62M260.8 392.14 265.84 392.14 265.84 391.3 265.42 390.46 265 390.04 264.16 389.62 262.9 389.62 262.06 390.04 261.22 390.88 260.8 392.14 260.8 392.98 261.22 394.24 262.06 395.08 262.9 395.5 264.16 395.5 265 395.08 265.84 394.24M280.12 389.62 280.12 395.5M280.12 390.88 279.28 390.04 278.44 389.62 277.18 389.62 276.34 390.04 275.5 390.88 275.08 392.14 275.08 392.98 275.5 394.24 276.34 395.08 277.18 395.5 278.44 395.5 279.28 395.08 280.12 394.24M283.48 389.62 283.48 395.5M283.48 391.3 284.74 390.04 285.58 389.62 286.84 389.62 287.68 390.04 288.1 391.3 288.1 395.5M296.08 386.68 296.08 395.5M296.08 390.88 295.24 390.04 294.4 389.62 293.14 389.62 292.3 390.04 291.46 390.88 291.04 392.14 291.04 392.98 291.46 394.24 292.3 395.08 293.14 395.5 294.4 395.5 295.24 395.08 296.08 394.24M307.84 386.68 307.84 395.5M304.9 386.68 310.78 386.68M312.46 386.68 312.88 387.1 313.3 386.68 312.88 386.26 312.46 386.68M312.88 389.62 312.88 395.5M316.24 389.62 316.24 395.5M316.24 391.3 317.5 390.04 318.34 389.62 319.6 389.62 320.44 390.04 320.86 391.3 320.86 395.5M320.86 391.3 322.12 390.04 322.96 389.62 324.22 389.62 325.06 390.04 325.48 391.3 325.48 395.5M328.42 392.14 333.46 392.14 333.46 391.3 333.04 390.46 332.62 390.04 331.78 389.62 330.52 389.62 329.68 390.04 328.84 390.88 328.42 392.14 328.42 392.98 328.84 394.24 329.68 395.08 330.52 395.5 331.78 395.5 332.62 395.08 333.46 394.24M445.88 389.45 445.88 389.07 446.26 388.32 446.63 387.94 447.39 387.56 448.9 387.56 449.66 387.94 450.04 388.32 450.41 389.07 450.41 389.83 450.04 390.59 449.28 391.72 445.5 395.5 450.79 395.5M455.33 387.56 454.19 387.94 453.44 389.07 453.06 390.96 453.06 392.1 453.44 393.99 454.19 395.12 455.33 395.5 456.08 395.5 457.22 395.12 457.97 393.99 458.35 392.1 458.35 390.96 457.97 389.07 457.22 387.94 456.08 387.56 455.33 387.56M461.75 389.07 462.51 388.7 463.64 387.56 463.64 395.5M472.72 387.56 468.94 387.56 468.56 390.96 468.94 390.59 470.07 390.21 471.2 390.21 472.34 390.59 473.09 391.34 473.47 392.48 473.47 393.23 473.09 394.37 472.34 395.12 471.2 395.5 470.07 395.5 468.94 395.12 468.56 394.74 468.18 393.99M482.17 386.05 475.36 398.15M486.32 387.56 485.19 387.94 484.43 389.07 484.06 390.96 484.06 392.1 484.43 393.99 485.19 395.12 486.32 395.5 487.08 395.5 488.21 395.12 488.97 393.99 489.35 392.1 489.35 390.96 488.97 389.07 488.21 387.94 487.08 387.56 486.32 387.56M496.53 390.21 496.15 391.34 495.4 392.1 494.26 392.48 493.88 392.48 492.75 392.1 491.99 391.34 491.62 390.21 491.62 389.83 491.99 388.7 492.75 387.94 493.88 387.56 494.26 387.56 495.4 387.94 496.15 388.7 496.53 390.21 496.53 392.1 496.15 393.99 495.4 395.12 494.26 395.5 493.51 395.5 492.37 395.12 491.99 394.37M505.6 386.05 498.8 398.15M509.76 387.56 508.63 387.94 507.87 389.07 507.49 390.96 507.49 392.1 507.87 393.99 508.63 395.12 509.76 395.5 510.52 395.5 511.65 395.12 512.41 393.99 512.78 392.1 512.78 390.96 512.41 389.07 511.65 387.94 510.52 387.56 509.76 387.56M516.19 389.07 516.94 388.7 518.08 387.56 518.08 395.5M529.79 389.07 530.55 388.7 531.68 387.56 531.68 395.5M540 387.56 536.22 392.85 541.89 392.85M540 387.56 540 395.5M544.54 390.21 544.16 390.59 544.54 390.96 544.91 390.59 544.54 390.21M544.54 394.74 544.16 395.12 544.54 395.5 544.91 395.12 544.54 394.74M548.69 389.07 549.45 388.7 550.58 387.56 550.58 395.5M557.39 387.56 556.25 387.94 555.5 389.07 555.12 390.96 555.12 392.1 555.5 393.99 556.25 395.12 557.39 395.5 558.14 395.5 559.28 395.12 560.03 393.99 560.41 392.1 560.41 390.96 560.03 389.07 559.28 387.94 558.14 387.56 557.39 387.56M563.44 390.21 563.06 390.59 563.44 390.96 563.81 390.59 563.44 390.21M563.44 394.74 563.06 395.12 563.44 395.5 563.81 395.12 563.44 394.74M568.73 387.56 567.59 387.94 566.84 389.07 566.46 390.96 566.46 392.1 566.84 393.99 567.59 395.12 568.73 395.5 569.48 395.5 570.62 395.12 571.37 393.99 571.75 392.1 571.75 390.96 571.37 389.07 570.62 387.94 569.48 387.56 568.73 387.56M575.91 387.56 574.78 387.94 574.4 388.7 574.4 389.45 574.78 390.21 575.53 390.59 577.04 390.96 578.18 391.34 578.93 392.1 579.31 392.85 579.31 393.99 578.93 394.74 578.56 395.12 577.42 395.5 575.91 395.5 574.78 395.12 574.4 394.74 574.02 393.99 574.02 392.85 574.4 392.1 575.15 391.34 576.29 390.96 577.8 390.59 578.56 390.21 578.93 389.45 578.93 388.7 578.56 387.94 577.42 387.56 575.91 387.56M559.04 318.94 558.2 318.1 556.94 317.68 555.26 317.68 554 318.1 553.16 318.94 553.16 319.78 553.58 320.62 554 321.04 554.84 321.46 557.36 322.3 558.2 322.72 558.62 323.14 559.04 323.98 559.04 325.24 558.2 326.08 556.94 326.5 555.26 326.5 554 326.08 553.16 325.24M561.14 317.68 563.24 326.5M565.34 317.68 563.24 326.5M565.34 317.68 567.44 326.5M569.54 317.68 567.44 326.5M572.06 317.68 572.06 326.5M572.06 317.68 575.84 317.68 577.1 318.1 577.52 318.52 577.94 319.36 577.94 320.62 577.52 321.46 577.1 321.88 575.84 322.3 572.06 322.3M586.76 319.78 586.34 318.94 585.5 318.1 584.66 317.68 582.98 317.68 582.14 318.1 581.3 318.94 580.88 319.78 580.46 321.04 580.46 323.14 580.88 324.4 581.3 325.24 582.14 326.08 582.98 326.5 584.66 326.5 585.5 326.08 586.34 325.24 586.76 324.4M525.2 329.68 521 329.68 520.58 333.46 521 333.04 522.26 332.62 523.52 332.62 524.78 333.04 525.62 333.88 526.04 335.14 526.04 335.98 525.62 337.24 524.78 338.08 523.52 338.5 522.26 338.5 521 338.08 520.58 337.66 520.16 336.82M528.98 334.72 536.54 334.72M539.9 332.62 539.9 338.5M539.9 334.3 541.16 333.04 542 332.62 543.26 332.62 544.1 333.04 544.52 334.3 544.52 338.5M544.52 334.3 545.78 333.04 546.62 332.62 547.88 332.62 548.72 333.04 549.14 334.3 549.14 338.5M552.08 329.68 552.5 330.1 552.92 329.68 552.5 329.26 552.08 329.68M552.5 332.62 552.5 338.5M555.86 332.62 555.86 338.5M555.86 334.3 557.12 333.04 557.96 332.62 559.22 332.62 560.06 333.04 560.48 334.3 560.48 338.5M570.56 329.68 570.56 338.5M576.44 329.68 576.44 338.5M570.56 333.88 576.44 333.88M579.8 329.68 579.8 338.5M579.8 329.68 583.58 329.68 584.84 330.1 585.26 330.52 585.68 331.36 585.68 332.62 585.26 333.46 584.84 333.88 583.58 334.3 579.8 334.3M588.62 329.68 588.62 338.5" stroke="#000" stroke-width="1" fill="none" stroke-linecap="square"/>
<path d="M513.48 215.72 521.04 215.72M531.12 215.72 538.68 215.72M550.98 210.68 550.14 211.1 549.3 211.94 548.88 212.78 548.46 214.04 548.46 216.14 548.88 217.4 549.3 218.24 550.14 219.08 550.98 219.5 552.66 219.5 553.5 219.08 554.34 218.24 554.76 217.4 555.18 216.14 555.18 214.04 554.76 212.78 554.34 211.94 553.5 211.1 552.66 210.68 550.98 210.68M557.53 213.62 560.05 219.5M562.57 213.62 560.05 219.5M569.89 213.62 569.89 219.5M569.89 214.88 569.05 214.04 568.21 213.62 566.95 213.62 566.11 214.04 565.27 214.88 564.85 216.14 564.85 216.98 565.27 218.24 566.11 219.08 566.95 219.5 568.21 219.5 569.05 219.08 569.89 218.24M573.89 210.68 573.89 217.82 574.31 219.08 575.15 219.5 575.99 219.5M572.63 213.62 575.57 213.62M578.22 210.68 578.64 211.1 579.06 210.68 578.64 210.26 578.22 210.68M578.64 213.62 578.64 219.5M583.77 213.62 582.93 214.04 582.09 214.88 581.67 216.14 581.67 216.98 582.09 218.24 582.93 219.08 583.77 219.5 585.03 219.5 585.87 219.08 586.71 218.24 587.13 216.98 587.13 216.14 586.71 214.88 585.87 214.04 585.03 213.62 583.77 213.62M590.29 213.62 590.29 219.5M590.29 215.3 591.55 214.04 592.39 213.62 593.65 213.62 594.49 214.04 594.91 215.3 594.91 219.5M527.48 222.68 527.48 231.5M527.48 222.68 531.26 222.68 532.52 223.1 532.94 223.52 533.36 224.36 533.36 225.62 532.94 226.46 532.52 226.88 531.26 227.3 527.48 227.3M536.74 225.62 536.74 231.5M536.74 228.14 537.16 226.88 538 226.04 538.84 225.62 540.1 225.62M542.05 222.68 542.47 223.1 542.89 222.68 542.47 222.26 542.05 222.68M542.47 225.62 542.47 231.5M546 225.62 546 231.5M546 227.3 547.26 226.04 548.1 225.62 549.36 225.62 550.2 226.04 550.62 227.3 550.62 231.5M550.62 227.3 551.88 226.04 552.72 225.62 553.98 225.62 554.82 226.04 555.24 227.3 555.24 231.5M558.81 228.14 563.85 228.14 563.85 227.3 563.43 226.46 563.01 226.04 562.17 225.62 560.91 225.62 560.07 226.04 559.23 226.88 558.81 228.14 558.81 228.98 559.23 230.24 560.07 231.08 560.91 231.5 562.17 231.5 563.01 231.08 563.85 230.24M571.78 222.68 571.78 231.5M577.66 222.68 577.66 231.5M571.78 226.88 577.66 226.88M580.88 222.68 580.88 231.5M580.88 222.68 584.66 222.68 585.92 223.1 586.34 223.52 586.76 224.36 586.76 225.62 586.34 226.46 585.92 226.88 584.66 227.3 580.88 227.3M589.57 222.68 589.57 231.5" stroke="#0848ff" stroke-width="1" fill="none" stroke-linecap="square"/>
</svg>
</body></html>
